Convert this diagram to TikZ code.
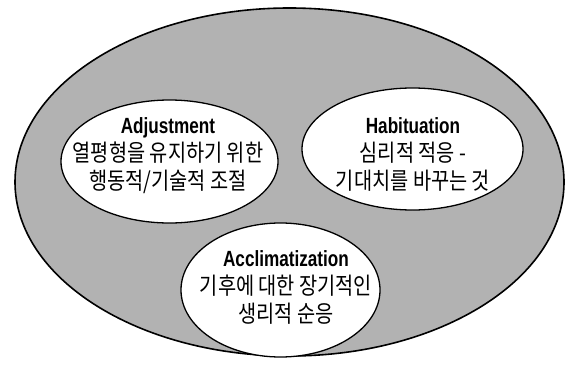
\documentclass[tikz,border=0pt]{standalone}
\usepackage{fontspec}
\setmainfont{Liberation Sans}
\newfontfamily\krfont[FakeStretch=0.84]{Noto Sans CJK KR}
\newfontfamily\ttlfont[FakeStretch=0.78]{Liberation Sans}
\usetikzlibrary{shapes.geometric}
\definecolor{halftone}{gray}{0.7}
\newcommand{\ttl}[1]{{\ttlfont\bfseries\fontsize{22}{28}\selectfont #1}}

\begin{document}
\begin{tikzpicture}[x=1pt, y=1pt,
		zone/.style={ellipse, draw, line width=1.3pt, fill=white, inner sep=0pt},
		zonetext/.style={align=center, font=\krfont\fontsize{23.5}{28}\selectfont}]
	\useasboundingbox (0,0) rectangle (572,376);
	\node [ellipse, draw, line width=1.6pt, fill=halftone, minimum width=549, minimum height=348] (env) at (289.5,194) {};
	\node [zone, minimum width=217, minimum height=123] (adj) at (169.5,214.5) {};
	\node [zone, minimum width=221, minimum height=122] (hab) at (412.5,227) {};
	\node [zone, minimum width=199, minimum height=134] (acc) at (280.5,86) {};
	\node [zonetext] (adjtext) at (168,220.5) {\ttl{Adjustment}\\열평형을 유지하기 위한\\행동적/기술적 조절};
	\node [zonetext] (habtext) at (413,221.5) {\ttl{Habituation}\\심리적 적응 -\\기대치를 바꾸는 것};
	\node [zonetext] (acctext) at (286,88.5) {\ttl{Acclimatization}\\기후에 대한 장기적인\\생리적 순응};
\end{tikzpicture}
\end{document}
